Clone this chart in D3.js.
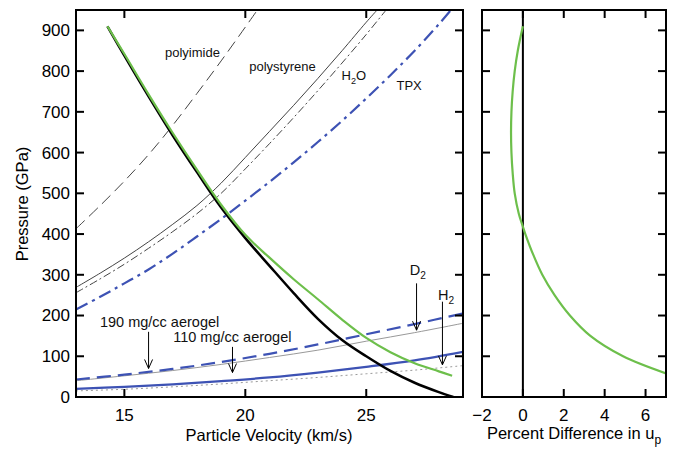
<!DOCTYPE html>
<html>
<head>
<meta charset="utf-8">
<script src="https://cdn.jsdelivr.net/npm/d3@7"></script>
<style>
	body { margin: 0; background: #fff; }
	svg { display: block; font-family: "Liberation Sans", Arial, Helvetica, sans-serif; }
</style>
</head>
<body>
<svg></svg>
<script>
// Hugoniot curves, [particle velocity (km/s), pressure (GPa)]
const reflection = [[14.3,910],[15,838],[16,738],[17,642],[18,552],[19,465],[20,390],[21,322],[22,255],[23,192],[24,140],[25,100],[26,64],[27,35],[28,12],[28.6,0]];
const reflectionGreen = [[14.3,910],[15,842],[16,743],[17,648],[18,558],[19,472],[20,398],[21,342],[22,289],[23,240],[24,190],[25,145],[26,110],[27,83],[28,63],[28.55,52]];
const polyimide = [[13,413],[14,470],[15,530],[16,595],[17,667],[18,745],[19,825],[20,908],[20.5,950]];
const polystyrene = [[13,269],[14,304],[15,341],[16,381],[17,424],[18,470],[19,525],[20,588],[21,652],[22,716],[23,782],[24,850],[25,920],[25.45,950]];
const water = [[13,256],[14,290],[15,326],[16,365],[17,406],[18,450],[19,500],[20,560],[21,622],[22,686],[23,752],[24,820],[25,890],[25.82,950]];
const tpx = [[13,215],[14,246],[15,279],[16,313],[17,352],[18,394],[19,437],[20,482],[21,528],[22,576],[23,626],[24,678],[25,733],[26,790],[27,850],[28,915],[28.5,950]];
const aerogel190 = [[13,43],[15,55],[17,69],[19,86],[21,106],[23,129],[25,154],[27,179],[29,205]];
const aerogel110 = [[13,20],[15,25],[17,31],[19,39],[21,48],[23,60],[25,74],[27,90],[29,111]];
const deuterium = [[13,40],[15,52],[17,65],[19,80],[21,97],[23,115],[25,137],[27,158],[29,181]];
const hydrogen = [[13,15],[15,19],[17,25],[19,32],[21,40],[23,48],[25,57],[27,66],[29,77]];

// right panel: pressure vs percent difference in up
const diffP = [910,850,800,750,700,650,600,550,500,450,418,400,350,300,250,200,150,100,58];
const diffPct = [0,-0.25,-0.4,-0.5,-0.56,-0.58,-0.56,-0.5,-0.4,-0.2,0,0.12,0.5,0.95,1.55,2.3,3.3,4.9,7.0];

const pTicks = [0,100,200,300,400,500,600,700,800,900];
const upTicks = [15,20,25];
const pctTicks = [-2,0,2,4,6];

// arrows: x, from P, to P
const arrows = [[16.0,160,70],[19.47,123,60],[27.08,279,164],[28.15,234,79]];

const W = 674, H = 449;
const blue = '#3d52b4', green = '#6dbf4b';

function whenDocumentLoaded(action) {
	if (document.readyState === "loading") {
		document.addEventListener("DOMContentLoaded", action);
	} else {
		action();
	}
}

function frameAxes(g, x, y, xt, showXLabels) {
	const [x0, x1] = x.range();
	const [y0, y1] = y.range();
	const tk = 8;
	// ticks
	g.selectAll('.yl').data(pTicks).enter().append('line')
		.attr('x1', x0).attr('x2', x0 + tk).attr('y1', d => y(d)).attr('y2', d => y(d));
	g.selectAll('.yr').data(pTicks).enter().append('line')
		.attr('x1', x1).attr('x2', x1 - tk).attr('y1', d => y(d)).attr('y2', d => y(d));
	g.selectAll('.xb').data(xt).enter().append('line')
		.attr('x1', d => x(d)).attr('x2', d => x(d)).attr('y1', y0).attr('y2', y0 - tk);
	g.selectAll('.xt').data(xt).enter().append('line')
		.attr('x1', d => x(d)).attr('x2', d => x(d)).attr('y1', y1).attr('y2', y1 + tk);
	g.selectAll('line').attr('stroke', '#000').attr('stroke-width', 2);
	g.append('rect')
		.attr('x', x0).attr('y', y1).attr('width', x1 - x0).attr('height', y0 - y1)
		.attr('fill', 'none').attr('stroke', '#000').attr('stroke-width', 2);
}

function makeChart() {
	const svg = d3.select('svg').attr('width', W).attr('height', H);

	const x = d3.scaleLinear().domain([13, 29]).range([76, 463]);
	const y = d3.scaleLinear().domain([0, 950]).range([397, 10]);
	const x2 = d3.scaleLinear().domain([-2, 7]).range([482, 666]);

	svg.append('clipPath').attr('id', 'clipL').append('rect')
		.attr('x', 76).attr('y', 10).attr('width', 387).attr('height', 387);
	svg.append('clipPath').attr('id', 'clipR').append('rect')
		.attr('x', 482).attr('y', 10).attr('width', 184).attr('height', 387);

	const line = d3.line().x(d => x(d[0])).y(d => y(d[1])).curve(d3.curveCatmullRom.alpha(0.5));

	const plot = svg.append('g').attr('clip-path', 'url(#clipL)');
	const series = [
		{data: hydrogen, stroke: '#999', w: 1, dash: '2,3'},
		{data: deuterium, stroke: '#999', w: 1, dash: null},
		{data: aerogel110, stroke: blue, w: 2.2, dash: null},
		{data: aerogel190, stroke: blue, w: 2.2, dash: '14,7'},
		{data: polyimide, stroke: '#444', w: 1, dash: '12,6'},
		{data: polystyrene, stroke: '#444', w: 1, dash: null},
		{data: water, stroke: '#444', w: 1, dash: '8,3,2,3'},
		{data: tpx, stroke: blue, w: 2.2, dash: '13,5,3,5'},
		{data: reflection, stroke: '#000', w: 2.5, dash: null},
		{data: reflectionGreen, stroke: green, w: 2.2, dash: null}
	];
	plot.selectAll('path').data(series).enter().append('path')
		.attr('d', d => line(d.data))
		.attr('fill', 'none')
		.attr('stroke', d => d.stroke)
		.attr('stroke-width', d => d.w)
		.attr('stroke-dasharray', d => d.dash);

	// arrows
	const ag = svg.append('g').attr('stroke', '#000').attr('stroke-width', 1).attr('fill', 'none');
	arrows.forEach(a => {
		const ax = x(a[0]), ya = y(a[1]), yb = y(a[2]);
		ag.append('line').attr('x1', ax).attr('x2', ax).attr('y1', ya).attr('y2', yb);
		ag.append('path').attr('d', `M${ax - 4},${yb - 9}L${ax},${yb}L${ax + 4},${yb - 9}`);
	});

	// labels
	const lab = (t, xv, pv, size) => svg.append('text')
		.attr('x', x(xv)).attr('y', y(pv)).attr('font-size', size).attr('fill', '#111').text(t);
	lab('polyimide', 16.68, 834, 13);
	lab('polystyrene', 20.16, 800, 13);
	lab('TPX', 26.25, 753, 13);
	lab('190 mg/cc aerogel', 13.99, 172, 14.5);
	lab('110 mg/cc aerogel', 17.02, 135, 14.5);
	const sub = (main, s, after, xv, pv, size) => {
		const t = svg.append('text').attr('x', x(xv)).attr('y', y(pv)).attr('font-size', size).attr('fill', '#111');
		t.append('tspan').text(main);
		t.append('tspan').attr('dy', 4).attr('font-size', size * 0.7).text(s);
		if (after) t.append('tspan').attr('dy', -4).text(after);
	};
	sub('H', '2', 'O', 23.98, 778, 13);
	sub('D', '2', null, 26.8, 299, 14.5);
	sub('H', '2', null, 27.97, 238, 14.5);

	// left frame + ticks
	const gl = svg.append('g');
	frameAxes(gl, x, y, upTicks);
	svg.append('g').selectAll('text').data(pTicks).enter().append('text')
		.attr('x', 70).attr('y', d => y(d)).attr('dy', '0.35em')
		.attr('text-anchor', 'end').attr('font-size', 17).text(d => d);
	svg.append('g').selectAll('text').data(upTicks).enter().append('text')
		.attr('x', d => x(d)).attr('y', 421)
		.attr('text-anchor', 'middle').attr('font-size', 17).text(d => d);
	svg.append('text').attr('transform', 'translate(28,204) rotate(-90)')
		.attr('text-anchor', 'middle').attr('font-size', 16.5).text('Pressure (GPa)');
	svg.append('text').attr('x', 269).attr('y', 441)
		.attr('text-anchor', 'middle').attr('font-size', 16.5).text('Particle Velocity (km/s)');

	// right panel
	const rp = svg.append('g').attr('clip-path', 'url(#clipR)');
	rp.append('line').attr('x1', x2(0)).attr('x2', x2(0)).attr('y1', 397).attr('y2', 10)
		.attr('stroke', '#000').attr('stroke-width', 2);
	const diff = diffP.map((p, i) => [diffPct[i], p]);
	rp.append('path')
		.attr('d', d3.line().x(d => x2(d[0])).y(d => y(d[1])).curve(d3.curveCatmullRom.alpha(0.5))(diff))
		.attr('fill', 'none').attr('stroke', green).attr('stroke-width', 2.2);

	const gr = svg.append('g');
	frameAxes(gr, x2, y, pctTicks.filter(d => d > -2));
	svg.append('g').selectAll('text').data(pctTicks).enter().append('text')
		.attr('x', d => x2(d)).attr('y', 421)
		.attr('text-anchor', 'middle').attr('font-size', 17).text(d => d3.format('d')(d));
	const pt = svg.append('text').attr('x', 574).attr('y', 439)
		.attr('text-anchor', 'middle').attr('font-size', 16.5);
	pt.append('tspan').text('Percent Difference in u');
	pt.append('tspan').attr('dy', 5).attr('font-size', 12).text('p');
}

whenDocumentLoaded(() => {
	makeChart();
});
</script>
</body>
</html>
